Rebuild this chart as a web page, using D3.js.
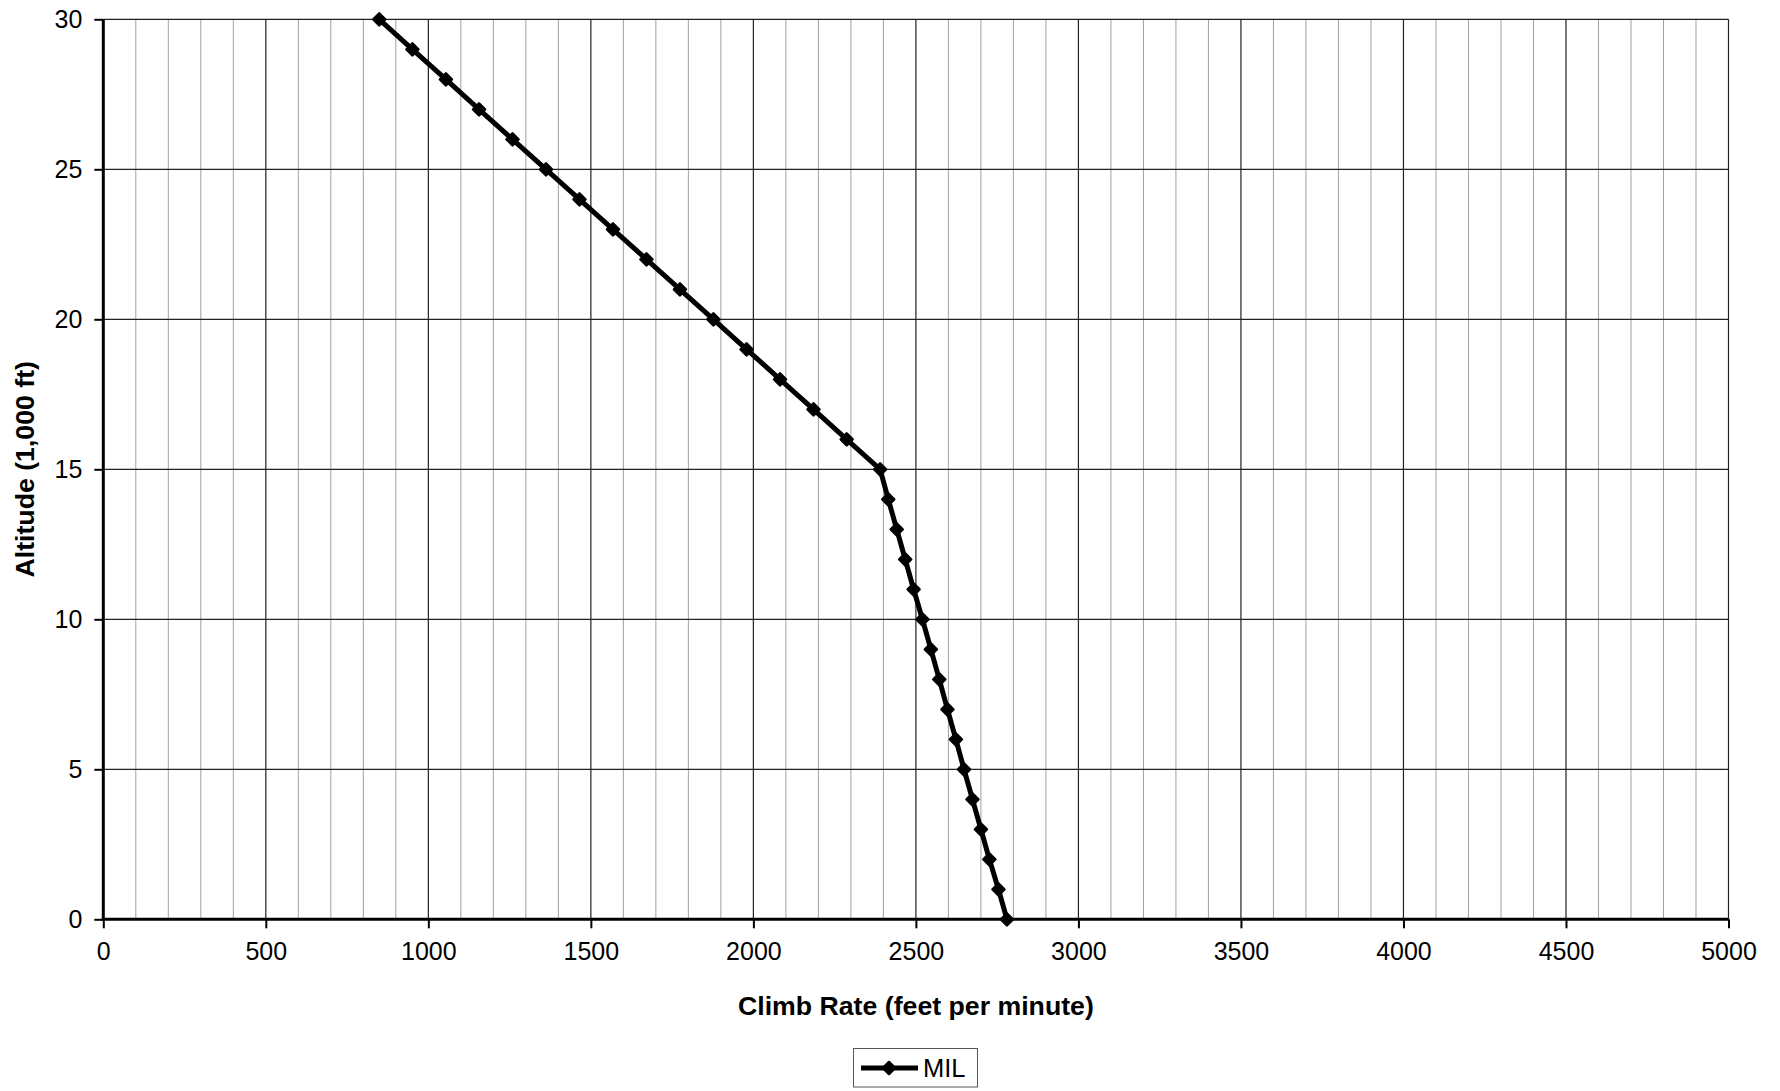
<!DOCTYPE html>
<html><head><meta charset="utf-8">
<script src="https://cdn.jsdelivr.net/npm/d3@7"></script>
<style>
html,body{margin:0;padding:0;background:#fff;}
svg{display:block;}
text{font-family:"Liberation Sans",Arial,sans-serif;fill:#000;}
</style></head>
<body>
<svg id="chart" width="1780" height="1091"></svg>
<script>
const altitudes = [0,1,2,3,4,5,6,7,8,9,10,11,12,13,14,15,16,17,18,19,20,21,22,23,24,25,26,27,28,29,30];
const climbRates = [2780,2754,2726,2700,2674,2648,2623,2597,2572,2546,2520,2493,2467,2441,2415,2390,2287,2185,2082,1979,1877,1774,1671,1568,1465,1362,1259,1156,1054,951,849];
const seriesName = "MIL";
const xTicks = [0,500,1000,1500,2000,2500,3000,3500,4000,4500,5000];
const xMinorTicks = d3.range(0, 5001, 100);
const yTicks = [0,5,10,15,20,25,30];
const xTitle = "Climb Rate (feet per minute)";
const yTitle = "Altitude (1,000 ft)";

const svg = d3.select("#chart");
const x = d3.scaleLinear().domain([0,5000]).range([103.3,1728.5]);
const y = d3.scaleLinear().domain([0,30]).range([919.3,19.3]);

const grid = svg.append("g");
grid.selectAll("line.minor").data(xMinorTicks.filter(v => v % 500 !== 0)).enter().append("line")
  .attr("x1", d => x(d)).attr("x2", d => x(d)).attr("y1", y(0)).attr("y2", y(30))
  .attr("stroke", "#a0a0a0").attr("stroke-width", 1);
grid.selectAll("line.major").data(xTicks.filter(v => v !== 0)).enter().append("line")
  .attr("x1", d => x(d)).attr("x2", d => x(d)).attr("y1", y(0)).attr("y2", y(30))
  .attr("stroke", "#222").attr("stroke-width", 1.2);
grid.selectAll("line.h").data(yTicks.filter(v => v !== 0)).enter().append("line")
  .attr("x1", x(0)).attr("x2", x(5000)).attr("y1", d => y(d)).attr("y2", d => y(d))
  .attr("stroke", "#222").attr("stroke-width", 1.2);

const xAxis = d3.axisBottom(x).tickValues(xTicks).tickSize(9).tickPadding(14).tickFormat(d3.format("d"));
const gx = svg.append("g").attr("transform", `translate(0,${y(0)})`).call(xAxis);
gx.select(".domain").attr("stroke", "#000").attr("stroke-width", 3).attr("d", `M${x(0)-1.5},0H${x(5000)}`);
gx.selectAll(".tick line").attr("stroke", "#000").attr("stroke-width", 2);
gx.selectAll(".tick text").attr("font-size", 25).attr("font-family", "Liberation Sans, Arial, sans-serif").attr("fill", "#000");

const yAxis = d3.axisLeft(y).tickValues(yTicks).tickSize(9).tickPadding(12).tickFormat(d3.format("d"));
const gy = svg.append("g").attr("transform", `translate(${x(0)},0)`).call(yAxis);
gy.select(".domain").attr("stroke", "#000").attr("stroke-width", 3).attr("d", `M0,${y(30)}V${y(0)+1.5}`);
gy.selectAll(".tick line").attr("stroke", "#000").attr("stroke-width", 2);
gy.selectAll(".tick text").attr("font-size", 25).attr("font-family", "Liberation Sans, Arial, sans-serif").attr("fill", "#000");

const pts = altitudes.map((a, i) => ({alt: a, rate: climbRates[i]}));
const line = d3.line().x(d => x(d.rate)).y(d => y(d.alt));
svg.append("path").datum(pts).attr("d", line)
  .attr("fill", "none").attr("stroke", "#000").attr("stroke-width", 5).attr("stroke-linejoin", "round");
const diamond = "M0,-6L6,0L0,6L-6,0Z";
svg.selectAll("path.mk").data(pts).enter().append("path")
  .attr("d", diamond).attr("transform", d => `translate(${x(d.rate)},${y(d.alt)})`)
  .attr("fill", "#000").attr("stroke", "#000").attr("stroke-width", 2.5).attr("stroke-linejoin", "round");

svg.append("text").attr("x", (x(0)+x(5000))/2).attr("y", 1015).attr("text-anchor", "middle")
  .attr("font-size", 26.7).attr("font-weight", "bold").text(xTitle);
svg.append("text").attr("transform", `translate(34,${(y(0)+y(30))/2}) rotate(-90)`).attr("text-anchor", "middle")
  .attr("font-size", 26.7).attr("font-weight", "bold").text(yTitle);

const lg = svg.append("g");
lg.append("rect").attr("x", 853.5).attr("y", 1048.5).attr("width", 124).attr("height", 38.5)
  .attr("fill", "#fff").attr("stroke", "#555").attr("stroke-width", 1);
lg.append("line").attr("x1", 861).attr("x2", 918).attr("y1", 1068).attr("y2", 1068)
  .attr("stroke", "#000").attr("stroke-width", 5);
lg.append("path").attr("d", diamond).attr("transform", "translate(889,1068)")
  .attr("fill", "#000").attr("stroke", "#000").attr("stroke-width", 2.5).attr("stroke-linejoin", "round");
lg.append("text").attr("x", 923).attr("y", 1077).attr("font-size", 25.5).text(seriesName);
</script>
</body></html>
